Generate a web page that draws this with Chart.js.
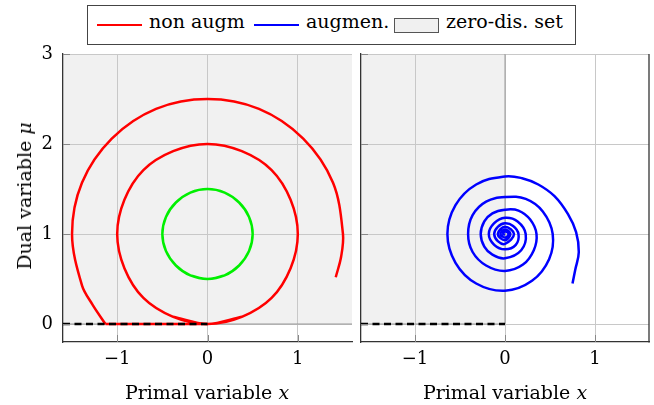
<!DOCTYPE html>
<html>
<head>
<meta charset="utf-8">
<script src="https://cdn.jsdelivr.net/npm/chart.js@4/dist/chart.umd.min.js"></script>
<style>
  body { margin: 0; background: #fff; width: 654px; height: 405px; position: relative; overflow: hidden; font-family: "DejaVu Serif", serif; color: #000; }
  canvas { position: absolute; top: 0; }
  #legend { position: absolute; left: 87px; top: 5px; width: 487px; height: 38px; border: 1px solid #444; background: #fff; }
  #legend .ln { position: absolute; top: 18px; width: 45px; height: 2px; }
  #legend .tx { position: absolute; top: 6px; font-size: 19px; line-height: 19px; white-space: nowrap; }
  #legend .bx { position: absolute; left: 306px; top: 12px; width: 43px; height: 13px; border: 1px solid #555; background: #f0f0f0; }
  .title { position: absolute; font-size: 19px; white-space: nowrap; transform: translate(-50%, -50%); }
</style>
</head>
<body>
<canvas id="left" width="356" height="405" style="left:0"></canvas>
<canvas id="right" width="298" height="405" style="left:356px"></canvas>

<div id="legend">
  <div class="ln" style="left:9px;background:#f00"></div>
  <span class="tx" style="left:61px">non augm</span>
  <div class="ln" style="left:166px;background:#00f"></div>
  <span class="tx" style="left:218px">augmen.</span>
  <div class="bx"></div>
  <span class="tx" style="left:358px">zero-dis. set</span>
</div>
<div class="title" style="left:207px;top:392px">Primal variable <i>x</i></div>
<div class="title" style="left:505px;top:392px">Primal variable <i>x</i></div>
<div class="title" style="left:24px;top:196px;transform:translate(-50%,-50%) rotate(-90deg)">Dual variable <i>μ</i></div>

<script>
// axes
const xTickValues = [-1, 0, 1];
const xTickLabels = ["\u22121", "0", "1"];
const yTickValues = [0, 1, 2, 3];
const yTickLabels = ["0", "1", "2", "3"];

// non augmented: big arc, slide along mu = 0, then limit circle
const redArc = [[1.42, 0.52], [1.48, 0.75], [1.50, 1.00], [1.39, 1.57], [1.06, 2.06], [0.57, 2.39], [0, 2.50], [-0.57, 2.39],
  [-1.06, 2.06], [-1.39, 1.57], [-1.50, 1.00], [-1.39, 0.43], [-1.27, 0.21], [-1.13, 0]];
const redSlide = [[-1.13, 0], [0, 0]];
const redCircle = [[-0.38, 0.08], [0, 0], [0.38, 0.08], [0.71, 0.29], [0.92, 0.62], [1, 1], [0.92, 1.38], [0.71, 1.71],
  [0.38, 1.92], [0, 2], [-0.38, 1.92], [-0.71, 1.71], [-0.92, 1.38], [-1, 1], [-0.92, 0.62], [-0.71, 0.29],
  [-0.38, 0.08], [0, 0], [0.38, 0.08]];
const greenCircle = [[-0.19, 0.54], [0, 0.5], [0.19, 0.54], [0.35, 0.65], [0.46, 0.81], [0.5, 1], [0.46, 1.19], [0.35, 1.35],
  [0.19, 1.46], [0, 1.5], [-0.19, 1.46], [-0.35, 1.35], [-0.46, 1.19], [-0.5, 1], [-0.46, 0.81], [-0.35, 0.65],
  [-0.19, 0.54], [0, 0.5], [0.19, 0.54]];

// augmented: spiral into (0, 1)
const blueSpiral = [[0.75, 0.45], [0.78, 0.60], [0.82, 0.80], [0.79, 1.02], [0.70, 1.22], [0.55, 1.42], [0.37, 1.55], [0.19, 1.62], [0, 1.64],
  [-0.32, 1.55], [-0.55, 1.32], [-0.64, 1.00], [-0.55, 0.68], [-0.32, 0.45], [0, 0.37],
  [0.30, 0.48], [0.49, 0.72], [0.53, 1.00], [0.42, 1.25], [0.23, 1.39], [0, 1.41],
  [-0.21, 1.36], [-0.36, 1.21], [-0.41, 1.00], [-0.36, 0.80], [-0.21, 0.65], [0, 0.59],
  [0.20, 0.66], [0.32, 0.82], [0.35, 1.00], [0.28, 1.16], [0.15, 1.26], [0, 1.27],
  [-0.14, 1.23], [-0.23, 1.14], [-0.27, 1.00], [-0.23, 0.86], [-0.14, 0.77], [0, 0.73],
  [0.18, 0.82], [0.23, 1.00], [0.14, 1.14], [0, 1.18],
  [-0.12, 1.12], [-0.18, 1.00], [-0.12, 0.88], [0, 0.83],
  [0.12, 0.88], [0.15, 1.00], [0.09, 1.09], [0, 1.12],
  [-0.08, 1.08], [-0.12, 1.00], [-0.08, 0.92], [0, 0.89],
  [0.10, 1.00], [0, 1.08], [-0.08, 1.00], [0, 0.93],
  [0.06, 1.00], [0, 1.05], [-0.05, 1.00], [0, 0.96],
  [0.04, 1.00], [0, 1.03], [-0.02, 1.00], [0, 0.99]];

// zero-dissipation sets and constraint line
const zeroSetLeft = [[-1.6, 0], [1.6, 0]];
const zeroSetRight = [[-1.6, 0], [0, 0]];
const zeroSetRightEdge = [[0, 0], [0, 3]];
const constraint = [[-1.6, 0], [0, 0]];

const pts = a => a.map(p => ({ x: p[0], y: p[1] }));
const font = { family: "DejaVu Serif", size: 18 };
const gridColor = "#c8c8c8";

function curve(data, color, tension) {
  return { data: pts(data), borderColor: color, borderWidth: 2.5, tension: tension, pointRadius: 0, fill: false, borderCapStyle: "butt" };
}
function dashed(data) {
  return { data: pts(data), borderColor: "#000", borderWidth: 2.4, borderDash: [7, 4.5], pointRadius: 0, fill: false, tension: 0 };
}
function region(data) {
  return { data: pts(data), borderColor: "#999", borderWidth: 1, backgroundColor: "#f1f1f1", pointRadius: 0, fill: "end", tension: 0 };
}

const frame = {
  id: "frame",
  afterDatasetsDraw(chart, args, opts) {
    const { ctx, chartArea: a, scales } = chart;
    ctx.save();
    ctx.strokeStyle = "#888";
    ctx.lineWidth = 1;
    ctx.beginPath();
    scales.x.ticks.forEach(t => {
      const px = Math.round(scales.x.getPixelForValue(t.value)) + 0.5;
      ctx.moveTo(px, a.bottom); ctx.lineTo(px, a.bottom - 7);
    });
    scales.y.ticks.forEach(t => {
      const py = Math.round(scales.y.getPixelForValue(t.value)) + 0.5;
      ctx.moveTo(a.left, py); ctx.lineTo(a.left + 7, py);
    });
    ctx.stroke();
    if (opts.right) {
      ctx.strokeStyle = "#333";
      ctx.lineWidth = 1.3;
      ctx.beginPath();
      ctx.moveTo(a.right, a.top); ctx.lineTo(a.right, a.bottom + 0.6);
      ctx.stroke();
    }
    ctx.restore();
  }
};

function options(showY, padLeft, padRight, rightFrame) {
  return {
    responsive: false,
    animation: false,
    layout: { padding: { top: 54, left: padLeft, right: padRight, bottom: 0 } },
    plugins: { legend: { display: false }, tooltip: { enabled: false }, filler: { drawTime: "beforeDraw" }, frame: { right: rightFrame } },
    scales: {
      x: {
        type: "linear", min: -1.6, max: 1.6,
        afterBuildTicks: s => { s.ticks = xTickValues.map(v => ({ value: v })); },
        afterFit: s => { s.height = 63; },
        ticks: { callback: (v, i) => xTickLabels[i], font: font, color: "#000", padding: 7, maxRotation: 0, autoSkip: false },
        grid: { color: gridColor, drawTicks: false },
        border: { color: "#333", width: 1.3 }
      },
      y: {
        type: "linear", min: -0.2, max: 3,
        afterBuildTicks: s => { s.ticks = yTickValues.map(v => ({ value: v })); },
        afterFit: s => { s.width = showY ? 63 : 0; },
        ticks: { display: showY, callback: (v, i) => yTickLabels[i], font: font, color: "#000", padding: 10 },
        grid: { color: gridColor, drawTicks: false },
        border: { color: "#333", width: 1.3 }
      }
    }
  };
}

new Chart(document.getElementById("left"), {
  type: "line",
  data: {
    datasets: [
      dashed(constraint),
      curve(greenCircle, "#00f000", 0.34),
      curve(redArc, "#ff0000", 0.34),
      curve(redSlide, "#ff0000", 0),
      curve(redCircle, "#ff0000", 0.34),
      region(zeroSetLeft)
    ]
  },
  options: options(true, 0, 4, false),
  plugins: [frame]
});

new Chart(document.getElementById("right"), {
  type: "line",
  data: {
    datasets: [
      dashed(constraint),
      curve(blueSpiral, "#0000ff", 0.4),
      { data: pts(zeroSetRightEdge), borderColor: "#999", borderWidth: 1, pointRadius: 0, fill: false, tension: 0 },
      region(zeroSetRight)
    ]
  },
  options: options(false, 5, 5, true),
  plugins: [frame]
});
</script>
</body>
</html>
